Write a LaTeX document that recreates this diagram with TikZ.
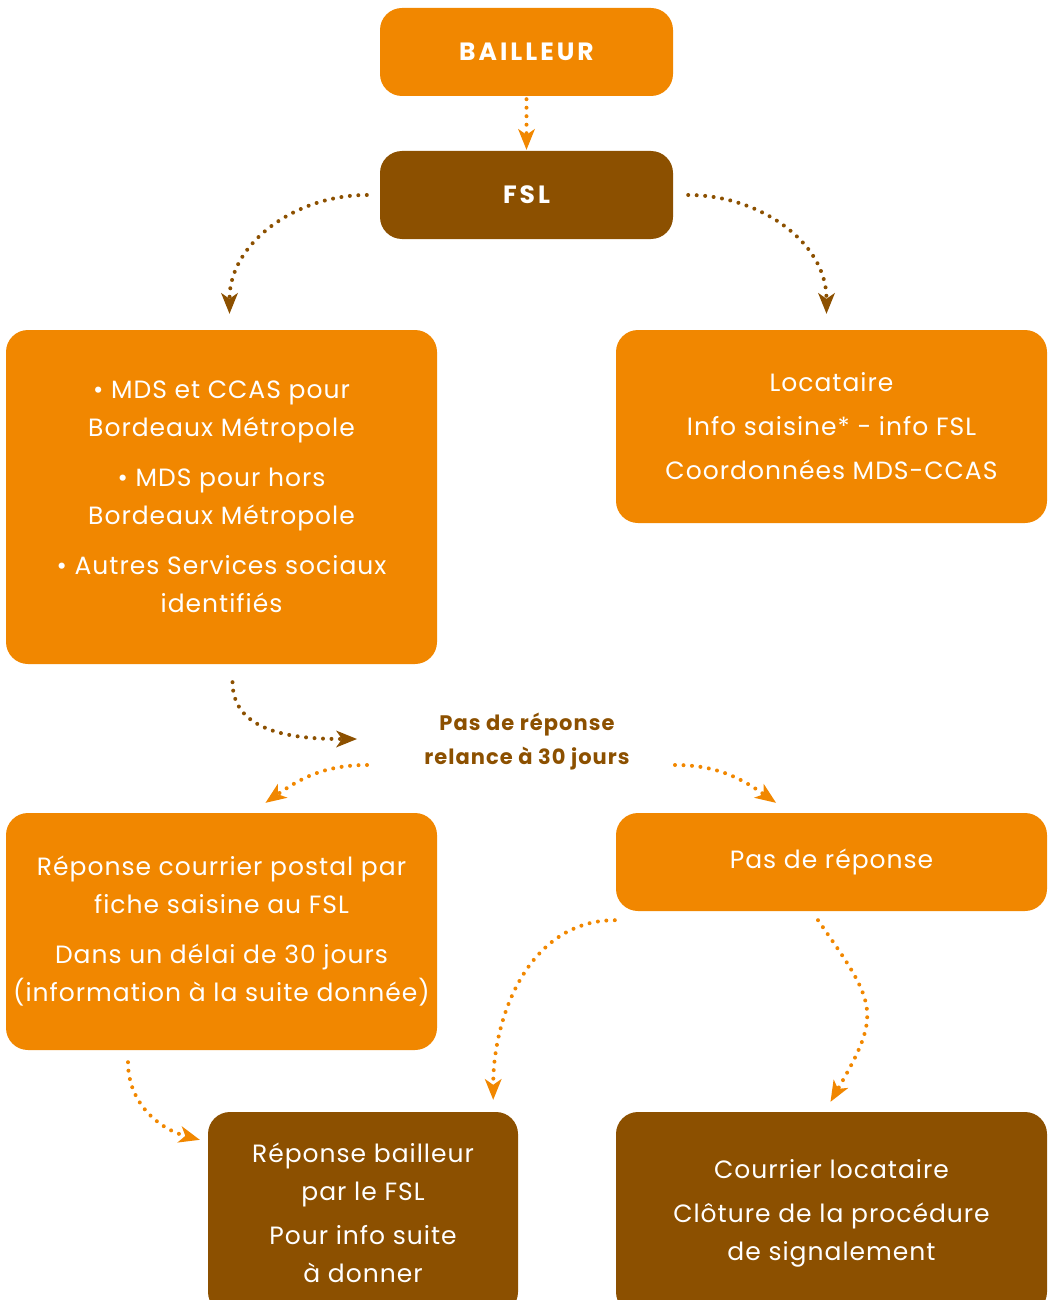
\documentclass[tikz,border=0pt]{standalone}
\usepackage{fontspec}
\setmainfont{Poppins}
\usetikzlibrary{arrows.meta,calc}
\definecolor{orng}{HTML}{F18700}
\definecolor{brwn}{HTML}{8C5000}
\begin{document}
\begin{tikzpicture}[x=1pt,y=1pt,
  box/.style={rounded corners=22pt, minimum width=431pt, align=center, text=white, inner sep=0pt,
     font=\fontsize{25}{38}\selectfont\addfontfeatures{LetterSpace=4}},
  obox/.style={box, fill=orng},
  bbox/.style={box, fill=brwn},
  hdr/.style={font=\fontsize{25}{38}\selectfont\bfseries\addfontfeatures{LetterSpace=12}},
  dots/.style={line width=4pt, dash pattern=on 0pt off 8.5pt, line cap=round,
     -{Stealth[length=21pt,width=17pt,inset=6pt,line width=0pt]}},
  oarr/.style={dots, draw=orng},
  barr/.style={dots, draw=brwn},
]
\useasboundingbox (0,0) rectangle (1051,-1300);
\clip (0,0) rectangle (1051,-1300);

\node[obox, minimum width=293pt, minimum height=88pt, hdr] (B) at (526.5,-52) {BAILLEUR};
\node[bbox, minimum width=293pt, minimum height=88pt, hdr] (F) at (526.5,-195) {FSL};

\node[obox, minimum height=334pt] (L) at (221.5,-497)
  {• MDS et CCAS pour\\Bordeaux Métropole\\[12pt]• MDS pour hors\\Bordeaux Métropole\\[12pt]• Autres Services sociaux\\identifiés};
\node[obox, minimum height=193pt] (R) at (831.5,-426.5)
  {Locataire\\[6pt]Info saisine* - info FSL\\[6pt]Coordonnées MDS-CCAS};

\node[align=center, text=brwn, font=\fontsize{21}{34}\selectfont\bfseries\addfontfeatures{LetterSpace=5}] (lab) at (527,-742)
  {Pas de réponse\\relance à 30 jours};

\node[obox, minimum height=237pt] (RC) at (221.5,-931.5)
  {Réponse courrier postal par\\fiche saisine au FSL\\[12pt]Dans un délai de 30 jours\\(information à la suite donnée)};
\node[obox, minimum height=98pt] (PR) at (831.5,-862) {Pas de réponse};

\node[bbox, minimum width=310pt, minimum height=202pt] (RB) at (363,-1213)
  {Réponse bailleur\\par le FSL\\[6pt]Pour info suite\\à donner};
\node[bbox, minimum height=202pt] (CL) at (831.5,-1213)
  {Courrier locataire\\[6pt]Clôture de la procédure\\de signalement};

\draw[oarr] ([yshift=-3pt]B.south) -- ([yshift=1pt]F.north);
\draw[barr] ([xshift=-13pt]F.west) to[out=180,in=90] ($(L.north)+(8,16)$);
\draw[barr] ([xshift=15pt]F.east) to[out=0,in=90] ($(R.north)+(-5,16)$);
\draw[barr] ($(L.south)+(11,-18)$) to[out=270,in=180] ($(lab.center)+(-170,3)$);
\draw[oarr] ($(lab.center)+(-160,-23)$) to[out=180,in=35] ($(RC.north)+(44,10)$);
\draw[oarr] ($(lab.center)+(148,-23)$) to[out=0,in=145] ($(PR.north)+(-55.5,10)$);
\draw[oarr] ($(PR.south west)+(-1,-9)$) to[out=180,in=90] ($(RB.north east)+(-25,12)$);
\draw[oarr] ($(PR.south)+(-13.5,-9)$) to[out=-55,in=60,looseness=1.45] ($(CL.north)+(-1,10)$);
\draw[oarr] ($(RC.south)+(-93.5,-12)$) to[out=270,in=165] ($(RB.north west)+(-8,-28)$);
\end{tikzpicture}
\end{document}
